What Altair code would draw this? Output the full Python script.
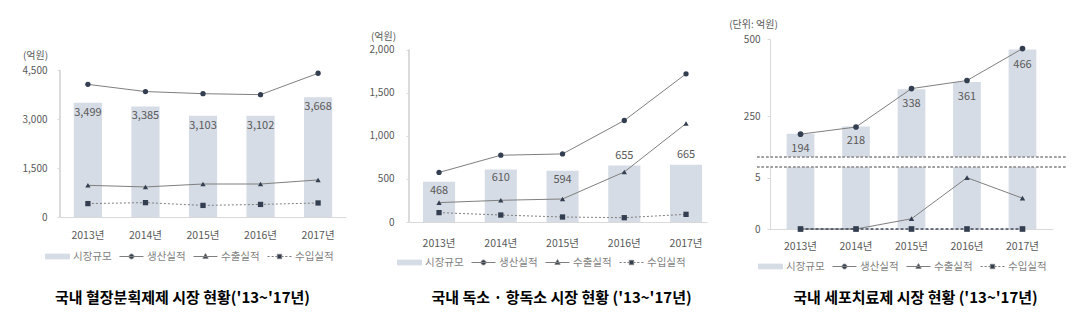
import altair as alt
import pandas as pd

YEARS = ["2013년", "2014년", "2015년", "2016년", "2017년"]
SERIES = ["시장규모", "생산실적", "수출실적", "수입실적"]

# Panel 1: 혈장분획제제
P1_MARKET = [3499, 3385, 3103, 3102, 3668]
P1_PROD = [4060, 3840, 3775, 3745, 4400]
P1_EXPORT = [970, 920, 1010, 1010, 1135]
P1_IMPORT = [410, 440, 355, 385, 430]
P1_TICKS = [0, 1500, 3000, 4500]

# Panel 2: 독소·항독소
P2_MARKET = [468, 610, 594, 655, 665]
P2_PROD = [575, 775, 790, 1178, 1720]
P2_EXPORT = [225, 252, 267, 581, 1143]
P2_IMPORT = [109, 81, 58, 50, 89]
P2_TICKS = [0, 500, 1000, 1500, 2000]
P2_LABEL_ABOVE = ["2016년", "2017년"]

# Panel 3: 세포치료제 (broken axis)
P3_MARKET = [194, 218, 338, 361, 466]
P3_PROD = [193, 216, 340, 366, 469]
P3_EXPORT = [0, 0, 1, 5, 3]
P3_IMPORT = [0, 0, 0, 0, 0]
P3_TICKS_UPPER = [250, 500]
P3_TICKS_LOWER = [0, 5]

TITLES = [
    "국내 혈장분획제제 시장 현황('13~'17년)",
    "국내 독소 · 항독소 시장 현황 ('13~'17년)",
    "국내 세포치료제 시장 현황 ('13~'17년)",
]
UNITS = ["(억원)", "(억원)", "(단위: 억원)"]

FONT = "Noto Sans CJK KR"
BAR = "#d6dce5"
LINE = "#7f7f7f"
MARK = "#333f50"
TEXT = "#595959"
AXISC = "#d9d9d9"

PATH_BAR = "M-1,-0.2H1V0.2H-1Z"
PATH_CIRCLE = "M-1,0H1M0.2,0A0.2,0.2,0,1,1,-0.2,0A0.2,0.2,0,1,1,0.2,0Z"
PATH_TRI = "M-1,0H1M0,-0.24L0.22,0.15L-0.22,0.15Z"
PATH_SQ = ("M-1,0H-0.82M-0.66,0H-0.48M-0.34,0H-0.2M0.2,0H0.34M0.48,0H0.66M0.82,0H1"
           "M-0.18,-0.18H0.18V0.18H-0.18Z")


def make_df(market, prod, export, imp):
    return pd.DataFrame({"year": YEARS, "market": market, "prod": prod,
                         "export": export, "import": imp})


def legend_layer(lx, ly):
    leg = alt.Legend(orient="none", legendX=lx, legendY=ly, direction="horizontal",
                     columns=4, title=None, symbolSize=576, symbolStrokeWidth=1,
                     labelFont=FONT, labelFontSize=10.5, labelColor="#7f7f7f",
                     labelOffset=3, columnPadding=5)
    lg = pd.DataFrame({"series": SERIES})
    return alt.Chart(lg).transform_filter("false").mark_point(filled=True, opacity=1).encode(
        fill=alt.Fill("series:N", scale=alt.Scale(domain=SERIES, range=[BAR, MARK, MARK, MARK]), legend=leg),
        stroke=alt.Stroke("series:N", scale=alt.Scale(domain=SERIES, range=[BAR, LINE, LINE, LINE]), legend=leg),
        shape=alt.Shape("series:N", scale=alt.Scale(domain=SERIES, range=[PATH_BAR, PATH_CIRCLE, PATH_TRI, PATH_SQ]), legend=leg),
    )


def x_enc(pi, po, align=0.5, title=None, tx=0, ty=0, lp=12, show=True):
    sc = alt.Scale(paddingInner=pi, paddingOuter=po, align=align)
    if not show:
        return alt.X("year:N", sort=YEARS, scale=sc, axis=None)
    return alt.X("year:N", sort=YEARS, scale=sc,
                 axis=alt.Axis(title=title, titleX=tx, titleY=ty, titleAlign="center",
                               titleBaseline="middle", titleFont=FONT, titleFontSize=15,
                               titleFontWeight="bold", titleColor="#000000",
                               labelAngle=0, labelFont=FONT, labelFontSize=10.5,
                               labelColor=TEXT, labelPadding=lp, ticks=False,
                               domainColor=AXISC, grid=False))


def y_axis(ticks, unit, ux, uy, lp, domain_line):
    return alt.Axis(values=ticks, format=",d", title=unit, titleAngle=0, titleX=ux, titleY=uy,
                    titleAlign="center", titleBaseline="middle", titleFont=FONT,
                    titleFontSize=10, titleFontWeight="normal", titleColor=TEXT,
                    labelFont=FONT, labelFontSize=10, labelColor=TEXT, labelPadding=lp,
                    tickSize=3, tickColor=AXISC, domain=domain_line, domainColor=AXISC,
                    grid=False)


def basic_panel(df, ticks, ymax, X, YA, lx, ly, width, height,
                label_dy_in, label_dy_above, above_years):
    ys = alt.Scale(domain=[0, ymax], nice=False, zero=True)

    def Y(field):
        return alt.Y(field, scale=ys, axis=YA, title=None if YA is None else YA.title)

    base = alt.Chart(df)
    bars = base.mark_bar(color=BAR).encode(x=X, y=Y("market:Q"))
    axis_line = base.mark_rule(color=AXISC, strokeWidth=1).encode(
        x=alt.value(0), y=alt.Y(datum=0, scale=ys, axis=YA), y2=alt.datum(ticks[-1]))
    in_years = [y for y in YEARS if y not in above_years]
    layers = [bars, axis_line]
    lab_in = base.transform_filter(alt.FieldOneOfPredicate(field="year", oneOf=in_years)).mark_text(
        font=FONT, fontSize=11, color=TEXT, dy=label_dy_in, baseline="middle").encode(
        x=X, y=Y("market:Q"), text=alt.Text("market:Q", format=",d"))
    layers.append(lab_in)
    if above_years:
        lab_up = base.transform_filter(alt.FieldOneOfPredicate(field="year", oneOf=above_years)).mark_text(
            font=FONT, fontSize=11, color=TEXT, dy=label_dy_above, baseline="middle").encode(
            x=X, y=Y("market:Q"), text=alt.Text("market:Q", format=",d"))
        layers.append(lab_up)
    for col, shape, dash in [("prod", "circle", None), ("export", "triangle-up", None), ("import", "square", [2, 2])]:
        if dash:
            ln = base.mark_line(color=LINE, strokeWidth=1, strokeDash=dash)
        else:
            ln = base.mark_line(color=LINE, strokeWidth=1)
        layers.append(ln.encode(x=X, y=Y(f"{col}:Q")))
        layers.append(base.mark_point(shape=shape, filled=True, color=MARK, size=28, opacity=1).encode(
            x=X, y=Y(f"{col}:Q")))
    layers.append(legend_layer(lx, ly))
    return alt.layer(*layers).properties(width=width, height=height)


# ---------- panel 1 ----------
df1 = make_df(P1_MARKET, P1_PROD, P1_EXPORT, P1_IMPORT)
X1 = x_enc(0.51, 0.24, 0.5, TITLES[0], 122, 80, 13)
YA1 = y_axis(P1_TICKS, UNITS[0], -25, 16, 10, False)
p1 = basic_panel(df1, P1_TICKS, 5449, X1, YA1, -15, 205, 286, 178, 10, -10, [])

# ---------- panel 2 ----------
df2 = make_df(P2_MARKET, P2_PROD, P2_EXPORT, P2_IMPORT)
X2 = x_enc(0.48, 0.153, 0.74, TITLES[1], 152, 75, 16)
YA2 = y_axis(P2_TICKS, UNITS[1], -26, -3, 12, False)
p2 = basic_panel(df2, P2_TICKS, 2124, X2, YA2, -12, 211, 298, 183, 9, -10, P2_LABEL_ABOVE)

# ---------- panel 3 (broken axis) ----------
df3 = make_df(P3_MARKET, P3_PROD, P3_EXPORT, P3_IMPORT)
UP_MIN, UP_MAX = 119.3, 500
LO_MIN, LO_MAX = 0, 6.04
W3 = 283
ysu = alt.Scale(domain=[UP_MIN, UP_MAX], nice=False, zero=False)
ysl = alt.Scale(domain=[LO_MIN, LO_MAX], nice=False, zero=False)
X3u = x_enc(0.5, 0.3, show=False)
X3l = x_enc(0.5, 0.3, 0.5, TITLES[2], 145, 68, 12)
YAU = y_axis(P3_TICKS_UPPER, UNITS[2], -17, -15, 7, True)
YAL = y_axis(P3_TICKS_LOWER, None, 0, 0, 7, True)
b3 = alt.Chart(df3)
BREAK = "#9a9a9a"


def YU(f):
    return alt.Y(f, scale=ysu, axis=YAU, title=UNITS[2])


def YL(f):
    return alt.Y(f, scale=ysl, axis=YAL, title=None)


up_bars = b3.mark_bar(color=BAR, clip=True).encode(x=X3u, y=YU("market:Q"))
up_lab = b3.mark_text(font=FONT, fontSize=11, color=TEXT, dy=15, baseline="middle").encode(
    x=X3u, y=YU("market:Q"), text=alt.Text("market:Q", format=",d"))
up_line = b3.mark_line(color=LINE, strokeWidth=1).encode(x=X3u, y=YU("prod:Q"))
up_pts = b3.mark_point(shape="circle", filled=True, color=MARK, size=32, opacity=1).encode(
    x=X3u, y=YU("prod:Q"))
up_break = b3.mark_rule(color=BREAK, strokeWidth=0.8, strokeDash=[2.5, 2]).encode(
    x=alt.value(-13), x2=alt.value(W3 + 14), y=alt.Y(datum=UP_MIN, scale=ysu, axis=YAU, title=UNITS[2]))
upper = alt.layer(up_bars, up_lab, up_line, up_pts, up_break).properties(width=W3, height=118)

lo_bars = b3.mark_bar(color=BAR, clip=True).encode(x=X3l, y=YL("market:Q"))
lo_eline = b3.mark_line(color=LINE, strokeWidth=1).encode(x=X3l, y=YL("export:Q"))
lo_epts = b3.mark_point(shape="triangle-up", filled=True, color=MARK, size=30, opacity=1).encode(
    x=X3l, y=YL("export:Q"))
lo_iline = b3.mark_line(color="#404a5a", strokeWidth=1.5, strokeDash=[3, 2]).encode(
    x=X3l, y=YL("import:Q"))
lo_ipts = b3.mark_point(shape="square", filled=True, color=MARK, size=32, opacity=1).encode(
    x=X3l, y=YL("import:Q"))
lo_break = b3.mark_rule(color=BREAK, strokeWidth=0.8, strokeDash=[2.5, 2]).encode(
    x=alt.value(-13), x2=alt.value(W3 + 14), y=alt.Y(datum=LO_MAX, scale=ysl, axis=YAL, title=None))
lower = alt.layer(lo_bars, lo_eline, lo_epts, lo_iline, lo_ipts, lo_break,
                  legend_layer(-12, 215)).properties(width=W3, height=62)

p3 = alt.vconcat(upper, lower, spacing=10, bounds="flush")

chart = alt.hconcat(p1, p2, p3, spacing=63, bounds="flush").resolve_scale(
    fill="independent", stroke="independent", shape="independent"
).properties(
    padding={"left": 22, "top": 19, "right": 5, "bottom": 5},
    background="white",
).configure_view(stroke=None)

chart.save("out.html", embed_options={"renderer": "svg", "actions": False})
